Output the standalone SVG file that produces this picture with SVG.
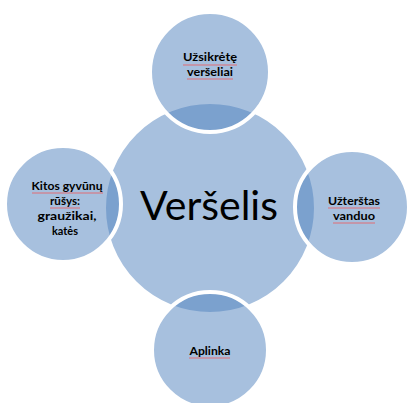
<svg xmlns="http://www.w3.org/2000/svg" width="407" height="403" viewBox="0 0 407 403">
<style>
.c{fill:#4F81BD;fill-opacity:0.5;stroke:#FFFFFF;stroke-width:4}
.t{font-family:Lato,"Liberation Sans",sans-serif;font-weight:bold;font-size:12px;fill:#000;text-anchor:middle}
.m{font-family:Lato,"Liberation Sans",sans-serif;font-size:40px;fill:#000;text-anchor:middle}
.u{stroke:#E06C75;stroke-width:1;fill:none}
</style>
<rect width="407" height="403" fill="#FFFFFF"/>
<g id="center">
<circle class="c" cx="210" cy="208" r="106"/>
<text class="m" x="209" y="220" textLength="138" lengthAdjust="spacingAndGlyphs">Veršelis</text>
</g>
<g id="top">
<circle class="c" cx="210" cy="72" r="60"/>
<text class="t" x="210" y="61" textLength="54" lengthAdjust="spacingAndGlyphs">Užsikrėtę</text>
<text class="t" x="210" y="76" textLength="46" lengthAdjust="spacingAndGlyphs">veršeliai</text>
<path class="u" d="M183 65h54M187 79h46"/>
</g>
<g id="right">
<circle class="c" cx="352" cy="207" r="57"/>
<text class="t" x="354" y="205" textLength="52" lengthAdjust="spacingAndGlyphs">Užterštas</text>
<text class="t" x="354" y="220" textLength="42" lengthAdjust="spacingAndGlyphs">vanduo</text>
<path class="u" d="M328 208h52M333 223h42"/>
</g>
<g id="bottom">
<circle class="c" cx="210" cy="350" r="58"/>
<text class="t" x="210" y="355" textLength="41" lengthAdjust="spacingAndGlyphs">Aplinka</text>
<path class="u" d="M189 358h41"/>
</g>
<g id="left">
<circle class="c" cx="63" cy="204" r="58"/>
<text class="t" x="67" y="190" textLength="71" lengthAdjust="spacingAndGlyphs">Kitos gyvūnų</text>
<text class="t" x="65" y="205" textLength="30" lengthAdjust="spacingAndGlyphs">rūšys:</text>
<text class="t" x="67" y="220" textLength="59" lengthAdjust="spacingAndGlyphs">graužikai,</text>
<text class="t" x="65" y="235" textLength="26" lengthAdjust="spacingAndGlyphs">katės</text>
<path class="u" d="M32 193h71M50 208h30"/>
</g>
<g id="connectors"/>
</svg>
